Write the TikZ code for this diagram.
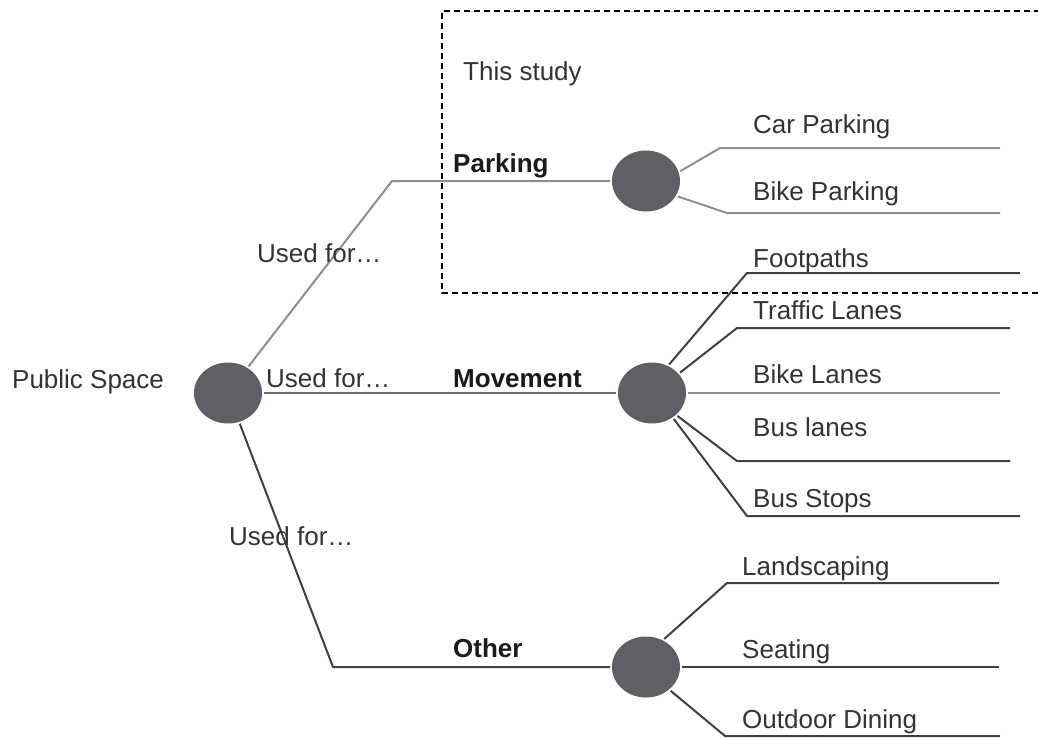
\documentclass[tikz,border=0pt]{standalone}
\usepackage{fontspec}
\setmainfont{Liberation Sans}
\usetikzlibrary{shapes.geometric}
\definecolor{hub}{HTML}{606064}
\definecolor{txt}{HTML}{333333}
\definecolor{btxt}{HTML}{1A1A1A}
\definecolor{lightln}{HTML}{8E8E8E}
\definecolor{midln}{HTML}{6E6E6E}
\definecolor{darkln}{HTML}{404040}
\begin{document}
\begin{tikzpicture}[x=1pt,y=-1pt,
  hubnode/.style={ellipse,fill=hub,draw=none,minimum width=68pt,minimum height=61pt,inner sep=0pt,outer sep=2pt},
  lbl/.style={anchor=base west,inner sep=0pt,text=txt,font=\fontsize{26}{30}\selectfont},
  blbl/.style={anchor=base west,inner sep=0pt,text=btxt,font=\fontsize{26}{30}\selectfont\bfseries},
  lightline/.style={draw=lightln,line width=2pt},
  midline/.style={draw=midln,line width=2pt},
  darkline/.style={draw=darkln,line width=2pt},
  studybox/.style={draw=black,line width=1.5pt,dash pattern=on 6pt off 4pt}
]
\useasboundingbox (0,0) rectangle (1038,737);

% hubs
\node[hubnode] (root)  at (228,393) {};
\node[hubnode] (park)  at (646,181) {};
\node[hubnode] (move)  at (652,393) {};
\node[hubnode] (other) at (646,667) {};

% dashed study box
\coordinate (bxa) at (1040,11);
\coordinate (bxb) at (442,11);
\coordinate (bxc) at (442,293);
\coordinate (bxd) at (1040,293);
\draw[studybox] (bxa) -- (bxb) -- (bxc) -- (bxd);
\node[lbl] (study) at (463,80) {This study};

% bends and ends
\coordinate (pbend) at (392,181);
\coordinate (obend) at (333,667);
\coordinate (carb) at (720,148);   \coordinate (care) at (1000,148);
\coordinate (bikpb) at (727,213);  \coordinate (bikpe) at (1000,213);
\coordinate (footb) at (747,273);  \coordinate (foote) at (1020,273);
\coordinate (trafb) at (737,328);  \coordinate (trafe) at (1010,328);
\coordinate (bikle) at (1000,393);
\coordinate (buslb) at (737,461);  \coordinate (busle) at (1010,461);
\coordinate (bussb) at (747,516);  \coordinate (busse) at (1020,516);
\coordinate (landb) at (727,583);  \coordinate (lande) at (999,583);
\coordinate (seate) at (999,667);
\coordinate (outb) at (725,736);   \coordinate (oute) at (1000,736);

% root connectors
\draw[lightline] (root) -- (pbend) -- (park);
\draw[midline] (root) -- (move);
\draw[darkline] (root) -- (obend) -- (other);

% parking children
\draw[lightline] (park.16) -- (carb) -- (care);
\draw[lightline] (park.-26) -- (bikpb) -- (bikpe);

% movement children
\draw[darkline] (move.59) -- (footb) -- (foote);
\draw[darkline] (move.36) -- (trafb) -- (trafe);
\draw[lightline] (move) -- (bikle);
\draw[darkline] (move.-42) -- (buslb) -- (busle);
\draw[darkline] (move.-50) -- (bussb) -- (busse);

% other children
\draw[darkline] (other.57) -- (landb) -- (lande);
\draw[darkline] (other) -- (seate);
\draw[darkline] (other.-44) -- (outb) -- (oute);

% labels
\node[lbl] (ps) at (12,388) {Public Space};
\node[lbl] (uf1) at (257,262) {Used for…};
\node[lbl] (uf2) at (266,387) {Used for…};
\node[lbl] (uf3) at (229,545) {Used for…};
\node[blbl] (lpark) at (453,172) {Parking};
\node[blbl] (lmove) at (453,387) {Movement};
\node[blbl] (loth) at (453,657) {Other};

\node[lbl] (tcar) at (753,133) {Car Parking};
\node[lbl] (tbikp) at (753,200) {Bike Parking};
\node[lbl] (tfoot) at (753,267) {Footpaths};
\node[lbl] (ttraf) at (753,319) {Traffic Lanes};
\node[lbl] (tbikl) at (753,383) {Bike Lanes};
\node[lbl] (tbusl) at (753,436) {Bus lanes};
\node[lbl] (tbuss) at (753,507) {Bus Stops};
\node[lbl] (tland) at (742,575) {Landscaping};
\node[lbl] (tseat) at (742,658) {Seating};
\node[lbl] (tout) at (742,728) {Outdoor Dining};
\end{tikzpicture}
\end{document}
